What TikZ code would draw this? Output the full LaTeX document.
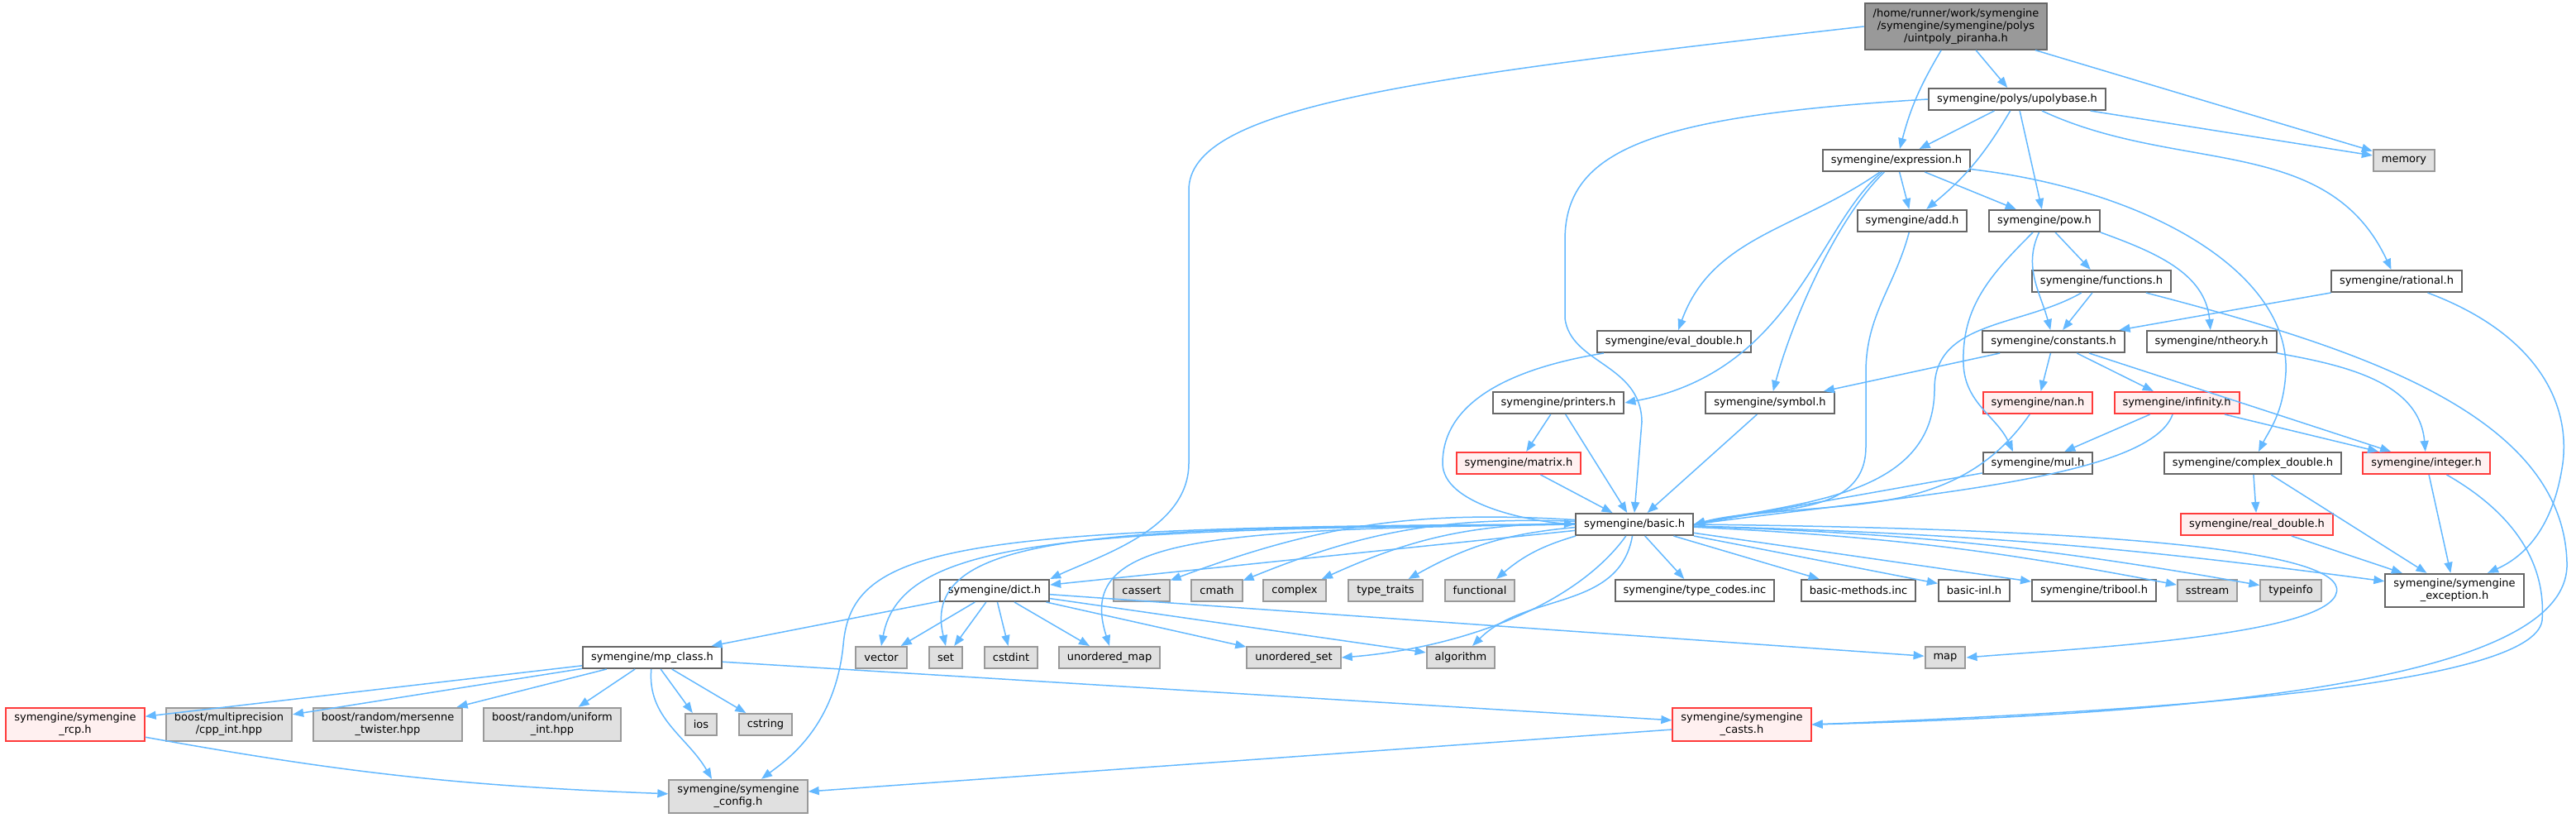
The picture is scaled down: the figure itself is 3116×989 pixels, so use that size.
\documentclass[tikz,border=0pt]{standalone}
\usepackage{fontspec}
\setmainfont{DejaVu Sans}
\usepackage{tikz}
\usepackage{xcolor}
\usetikzlibrary{arrows.meta}
\definecolor{edgeblue}{HTML}{63B8FF}
\definecolor{boxgrey}{HTML}{666666}
\definecolor{extgrey}{HTML}{999999}
\definecolor{extfill}{HTML}{E0E0E0}
\definecolor{rootfill}{HTML}{999999}
\definecolor{truncfill}{HTML}{FFF0F0}
\definecolor{truncred}{HTML}{FF3B3B}

\begin{document}
\begin{tikzpicture}[x=0.5pt,y=-0.5pt]
      \useasboundingbox(0,0) rectangle (3116,989);
      \tikzset{N/.style = {shape=rectangle, draw=boxgrey, fill=white, line width=1pt, text=black, align=center,
          font=\fontsize{6.5}{7.5}\selectfont, inner xsep=5pt, inner ysep=3.1pt, minimum height=13pt}}
      \tikzset{X/.style = {N, draw=extgrey, fill=extfill}}
      \tikzset{T/.style = {N, draw=truncred, fill=truncfill}}
      \tikzset{R/.style = {N, fill=rootfill}}
      \tikzset{E/.style = {draw=edgeblue, line width=0.75pt, -{Triangle[length=6.5pt,width=5pt]}}}
      % file and its own headers
      \node[R](root) at (2366,32) {/home/runner/work/symengine\\/symengine/symengine/polys\\/uintpoly\_piranha.h};
      \node[N](upoly) at (2440,120) {symengine/polys/upolybase.h};
      \node[X](memory) at (2908,194) {memory};
      \node[N](expr) at (2294,194) {symengine/expression.h};
      \node[N](add) at (2313,267) {symengine/add.h};
      \node[N](pow) at (2473,267) {symengine/pow.h};
      \node[N](func) at (2542,340) {symengine/functions.h};
      \node[N](rational) at (2899,340) {symengine/rational.h};
      \node[N](evald) at (2025,413) {symengine/eval\_double.h};
      \node[N](constants) at (2484,413) {symengine/constants.h};
      \node[N](ntheory) at (2675,413) {symengine/ntheory.h};
      \node[N](printers) at (1885,487) {symengine/printers.h};
      \node[N](symbol) at (2141,487) {symengine/symbol.h};
      \node[T](nan) at (2465,487) {symengine/nan.h};
      \node[T](inf) at (2633,487) {symengine/infinity.h};
      \node[T](matrix) at (1837,560) {symengine/matrix.h};
      \node[N](mul) at (2465,560) {symengine/mul.h};
      \node[N](cplx) at (2725,560) {symengine/complex\_double.h};
      \node[T](integer) at (2935,560) {symengine/integer.h};
      \node[N](basic) at (1977,634) {symengine/basic.h};
      \node[T](realdbl) at (2730,634) {symengine/real\_double.h};
      % row under basic.h
      \node[N](dict) at (1203,714) {symengine/dict.h};
      \node[X](cassert) at (1381,714) {cassert};
      \node[X](cmath) at (1472,714) {cmath};
      \node[X](complex) at (1566,714) {complex};
      \node[X](typetraits) at (1676,714) {type\_traits};
      \node[X](functional) at (1790,714) {functional};
      \node[N](typecodes) at (2050,714) {symengine/type\_codes.inc};
      \node[N](bmethods) at (2248,714) {basic-methods.inc};
      \node[N](binl) at (2388,714) {basic-inl.h};
      \node[N](tribool) at (2533,714) {symengine/tribool.h};
      \node[X](sstream) at (2670,714) {sstream};
      \node[X](typeinfo) at (2771,714) {typeinfo};
      \node[N](exception) at (2969,714) {symengine/symengine\\\_exception.h};
      \node[N](mpclass) at (789,795) {symengine/mp\_class.h};
      \node[X](vector) at (1066,795) {vector};
      \node[X](set) at (1144,795) {set};
      \node[X](cstdint) at (1223,795) {cstdint};
      \node[X](umap) at (1342,795) {unordered\_map};
      \node[X](uset) at (1565,795) {unordered\_set};
      \node[X](algorithm) at (1767,795) {algorithm};
      \node[X](map) at (2353,795) {map};
      \node[T](rcp) at (91,876) {symengine/symengine\\\_rcp.h};
      \node[X](cppint) at (277,876) {boost/multiprecision\\/cpp\_int.hpp};
      \node[X](mersenne) at (469,876) {boost/random/mersenne\\\_twister.hpp};
      \node[X](uniform) at (668,876) {boost/random/uniform\\\_int.hpp};
      \node[X](ios) at (848,876) {ios};
      \node[X](cstring) at (926,876) {cstring};
      \node[T](casts) at (2107,876) {symengine/symengine\\\_casts.h};
      \node[X](config) at (893,963) {symengine/symengine\\\_config.h};
      % includes of the file
      \draw[E](root.west) .. controls (1700,95) and (1438,130) .. (1438,230) -- (1438,560) .. controls (1438,640) and (1330,672) .. (dict.north east);
      \draw[E](root) to (upoly);
      \draw[E](root) to[bend right=8] (expr);
      \draw[E](root) to (memory);
      \draw[E](upoly) to (expr);
      \draw[E](upoly) to[bend left=10] (add);
      \draw[E](upoly) to (pow);
      \draw[E](upoly) to (memory);
      \draw[E](upoly) to[out=-25,in=115] (rational);
      \draw[E](upoly.west) .. controls (2000,140) and (1893,180) .. (1893,290) -- (1893,385) .. controls (1900,440) and (1985,440) .. (1986,510) -- (basic.north);
      \draw[E](expr) to (add);
      \draw[E](expr) to (pow);
      \draw[E](expr) to[out=-145,in=70] (evald);
      \draw[E](expr) .. controls (2200,270) and (2170,450) .. (printers.east);
      \draw[E](expr) .. controls (2225,260) and (2170,380) .. (symbol);
      \draw[E](expr) .. controls (2600,230) and (2770,330) .. (2765,450) .. controls (2762,500) and (2745,520) .. (cplx);
      \draw[E](add) to[out=-105,in=90] (2257,450) -- (2257,540) to[out=-90,in=15] (basic.east);
      \draw[E](pow) to (func);
      \draw[E](pow) to[out=-115,in=105] (constants);
      \draw[E](pow.south east) to[out=-20,in=95] (ntheory);
      \draw[E](pow) to[out=-135,in=92] (2375,440) to[out=-88,in=115] ([xshift=-15pt]mul.north);
      \draw[E](func) to (constants);
      \draw[E](func) to[out=-150,in=90] (2340,470) to[out=-90,in=12] (basic.east);
      \draw[E](func) .. controls (2850,420) and (3100,500) .. (3105,680) .. controls (3110,800) and (2800,860) .. (casts.east);
      \draw[E](rational) to (constants);
      \draw[E](rational) .. controls (3060,400) and (3110,480) .. (3100,560) .. controls (3090,630) and (3060,670) .. ([xshift=20pt]exception.north);
      \draw[E](evald) .. controls (1800,450) and (1745,500) .. (1745,560) .. controls (1745,610) and (1850,630) .. (basic.west);
      \draw[E](constants) to (symbol);
      \draw[E](constants) to (nan);
      \draw[E](constants) to (inf);
      \draw[E](constants) to (integer);
      \draw[E](ntheory) to[out=-10,in=95] (integer);
      \draw[E](printers) to (matrix);
      \draw[E](printers) to (basic);
      \draw[E](matrix) to (basic);
      \draw[E](symbol) to (basic);
      \draw[E](nan) to[out=-125,in=12] (basic.east);
      \draw[E](inf) to (mul);
      \draw[E](inf) to (integer);
      \draw[E](inf) .. controls (2600,580) and (2300,600) .. (basic.east);
      \draw[E](mul) to (basic.east);
      \draw[E](cplx) to (realdbl);
      \draw[E](cplx) to (exception);
      \draw[E](integer) to (exception);
      \draw[E](integer) .. controls (3040,620) and (3080,680) .. (3075,750) .. controls (3065,830) and (2600,860) .. (casts.east);
      \draw[E](realdbl) to (exception);
      % basic.h
      \draw[E](basic) to (dict);
      \draw[E](basic.west) .. controls (1300,640) and (1090,650) .. (vector.north);
      \draw[E](basic.west) .. controls (1350,638) and (1110,640) .. (set.north);
      \draw[E](basic.west) .. controls (1450,640) and (1300,650) .. (umap.north);
      \draw[E](basic.west) .. controls (1150,636) and (1030,660) .. (1020,780) .. controls (1010,880) and (950,920) .. (config);
      \draw[E](basic) to[bend right=12] (cassert);
      \draw[E](basic) to[bend right=12] (cmath);
      \draw[E](basic) to[bend right=12] (complex);
      \draw[E](basic) to[bend right=12] (typetraits);
      \draw[E](basic) to[bend right=12] (functional);
      \draw[E](basic) .. controls (1900,740) and (1750,785) .. (uset.east);
      \draw[E](basic) to[out=-100,in=45] (algorithm);
      \draw[E](basic) to (typecodes);
      \draw[E](basic) to (bmethods);
      \draw[E](basic) to (binl);
      \draw[E](basic) to (tribool);
      \draw[E](basic) to[bend left=4] (sstream);
      \draw[E](basic) to[bend left=4] (typeinfo);
      \draw[E](basic) to[bend left=3] (exception);
      \draw[E](basic.east) .. controls (2600,640) and (2850,670) .. (2825,720) .. controls (2800,770) and (2500,785) .. (map.east);
      % dict.h
      \draw[E](dict) to (mpclass);
      \draw[E](dict) to (vector);
      \draw[E](dict) to (set);
      \draw[E](dict) to (cstdint);
      \draw[E](dict) to (umap);
      \draw[E](dict) to (uset);
      \draw[E](dict) to (algorithm);
      \draw[E](dict) to (map);
      % mp_class.h
      \draw[E](mpclass) to (rcp);
      \draw[E](mpclass) to (cppint);
      \draw[E](mpclass) to (mersenne);
      \draw[E](mpclass) to (uniform);
      \draw[E](mpclass) to (ios);
      \draw[E](mpclass) to (cstring);
      \draw[E](mpclass) to[out=-95,in=120] ([xshift=-16pt]config.north);
      \draw[E](mpclass) to (casts);
      \draw[E](rcp) to[bend right=4] (config);
      \draw[E](casts) to (config);
    \end{tikzpicture}
\end{document}
